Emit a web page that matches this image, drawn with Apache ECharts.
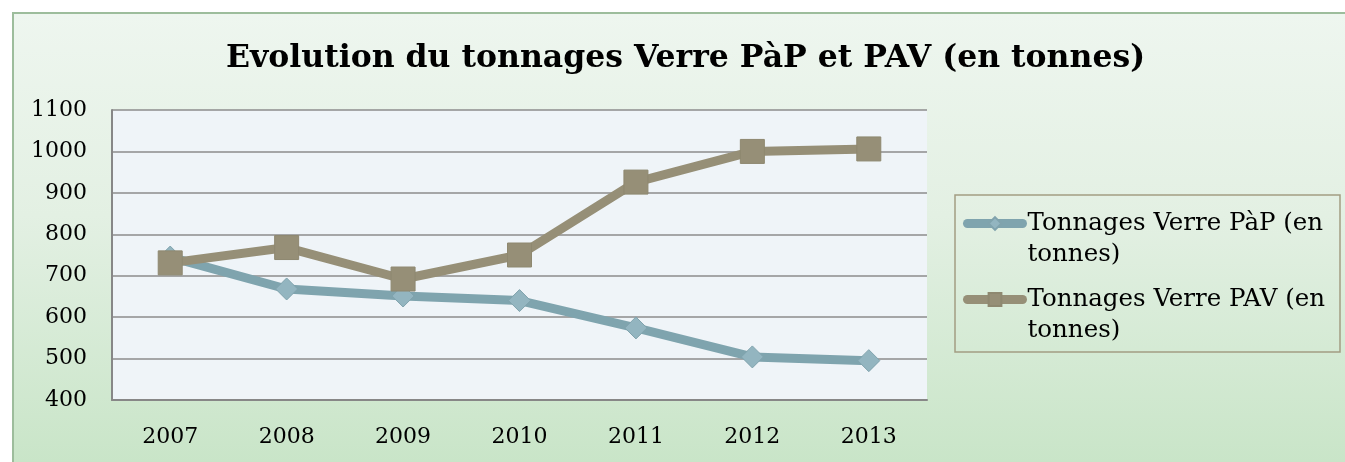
<!DOCTYPE html>
<html>
<head>
<meta charset="utf-8">
<script src="https://cdn.jsdelivr.net/npm/echarts@6/dist/echarts.min.js"></script>
<style>
  html, body { margin: 0; padding: 0; background: #fff; overflow: hidden; width: 1345px; height: 462px; }
  #frame {
    position: absolute; left: 12px; top: 12px; right: 0; bottom: 0;
    border-left: 2px solid #9dbd9c; border-top: 2px solid #9dbd9c;
    background: linear-gradient(180deg, #eef6ef 0%, #e3f0e3 45%, #c9e5c8 100%);
  }
  #main { position: absolute; left: 0; top: 0; width: 1345px; height: 462px; }
</style>
</head>
<body>
<div id="frame"></div>
<div id="main"></div>
<script>
// données
var years = ['2007', '2008', '2009', '2010', '2011', '2012', '2013']
var papValues = [745, 668, 651, 640, 574, 504, 495]
var pavValues = [731, 768, 692, 750, 926, 1000, 1006]
var seriesNames = ['Tonnages Verre PàP (en tonnes)', 'Tonnages Verre PAV (en tonnes)']
var legendLabels = ['Tonnages Verre PàP (en\ntonnes)', 'Tonnages Verre PAV (en\ntonnes)']

var chart = echarts.init(document.getElementById('main'))
var labelFont = 'DejaVu Serif'

var option = {
  backgroundColor: 'transparent',
  animation: false,
  title: {
    text: 'Evolution du tonnages Verre PàP et PAV (en tonnes)',
    left: 221,
    top: 38,
    textStyle: {
      fontFamily: labelFont,
      fontWeight: 'bold',
      fontSize: 31.5,
      color: '#000'
    }
  },
  grid: {
    left: 112,
    right: 418,
    top: 110,
    bottom: 62,
    show: true,
    backgroundColor: '#eff4f8',
    borderWidth: 0
  },
  legend: {
    orient: 'vertical',
    left: 963,
    top: 177,
    padding: 0,
    itemGap: -17,
    itemWidth: 55,
    itemHeight: 16,
    data: seriesNames,
    lineStyle: { width: 9, cap: 'round' },
    // ligne vide en tête pour aligner l'icône sur la première ligne du texte
    formatter: function (name) {
      return '\n' + legendLabels[seriesNames.indexOf(name)]
    },
    textStyle: {
      fontFamily: labelFont,
      fontSize: 24.5,
      lineHeight: 31,
      color: '#000'
    }
  },
  graphic: [{
    type: 'rect',
    shape: { x: 955, y: 195, width: 385, height: 157 },
    style: { fill: 'none', stroke: '#a39d82', lineWidth: 1.5 },
    silent: true
  }],
  xAxis: {
    type: 'category',
    data: years,
    boundaryGap: true,
    axisLine: { show: true, lineStyle: { color: '#878787', width: 2 } },
    axisTick: { show: false },
    axisLabel: {
      margin: 26,
      fontFamily: labelFont,
      fontSize: 22,
      color: '#000'
    }
  },
  yAxis: {
    type: 'value',
    min: 400,
    max: 1100,
    interval: 100,
    axisLine: { show: true, lineStyle: { color: '#878787', width: 2 } },
    axisTick: { show: false },
    splitLine: { lineStyle: { color: '#8c8c8c', width: 1.5 } },
    axisLabel: {
      margin: 25,
      fontFamily: labelFont,
      fontSize: 22,
      color: '#000',
      formatter: function (v) { return String(v) }
    }
  },
  series: [{
    name: seriesNames[0],
    type: 'line',
    data: papValues,
    symbol: 'diamond',
    symbolSize: 22,
    lineStyle: { color: '#7fa4ae', width: 9, cap: 'round', join: 'round' },
    itemStyle: { color: '#93b5c0', borderColor: '#80a3ad', borderWidth: 1 }
  }, {
    name: seriesNames[1],
    type: 'line',
    data: pavValues,
    symbol: 'rect',
    symbolSize: 24,
    lineStyle: { color: '#968f77', width: 9, cap: 'round', join: 'round' },
    itemStyle: { color: '#968f77', borderColor: '#8e8870', borderWidth: 1 }
  }]
}

chart.setOption(option)
</script>
</body>
</html>
